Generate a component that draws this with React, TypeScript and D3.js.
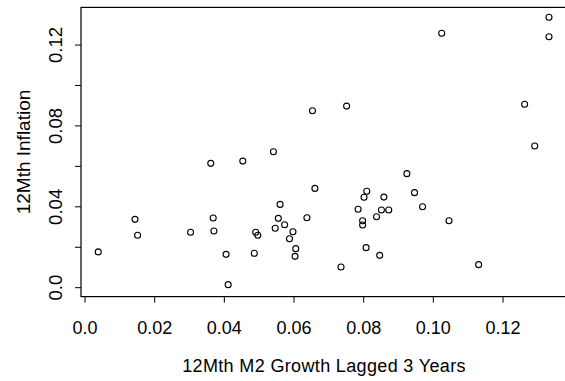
import React from "react";
import * as d3 from "d3";

// 12-month M2 growth (lagged 3 years) against 12-month inflation
const m2Growth = [
  0.0038, 0.01435, 0.0151, 0.0303, 0.0361, 0.0368, 0.037, 0.0405, 0.0411, 0.0453,
  0.049, 0.0496, 0.0486, 0.0541, 0.056, 0.0555, 0.0573, 0.0546, 0.0597, 0.0587,
  0.0605, 0.0603, 0.0637, 0.0653, 0.066, 0.0751, 0.0735, 0.0784, 0.0797, 0.0797,
  0.0801, 0.0809, 0.0807, 0.0837, 0.0851, 0.0872, 0.0858, 0.0846, 0.0924, 0.0946,
  0.0969, 0.1024, 0.1045, 0.113, 0.1262, 0.1291, 0.1332, 0.1332,
];
const inflation = [
  0.0177, 0.0338, 0.0259, 0.0274, 0.0615, 0.0345, 0.028, 0.0165, 0.0015, 0.0626,
  0.0274, 0.0259, 0.017, 0.0672, 0.0412, 0.0343, 0.0311, 0.0294, 0.0277, 0.0242,
  0.0193, 0.0155, 0.0346, 0.0875, 0.0491, 0.0898, 0.0102, 0.0388, 0.0331, 0.031,
  0.0447, 0.0477, 0.0198, 0.0351, 0.0384, 0.0384, 0.0448, 0.016, 0.0564, 0.047,
  0.04, 0.1258, 0.0331, 0.0114, 0.0907, 0.0701, 0.1337, 0.1241,
];

const xTicks = [0, 0.02, 0.04, 0.06, 0.08, 0.1, 0.12];
const xTickLabels = ["0.0", "0.02", "0.04", "0.06", "0.08", "0.10", "0.12"];
const yTicks = [0, 0.02, 0.04, 0.06, 0.08, 0.1, 0.12];
const yTickLabels = ["0.0", "", "0.04", "", "0.08", "", "0.12"];

const xTitle = "12Mth M2 Growth Lagged 3 Years";
const yTitle = "12Mth Inflation";

const W = 565;
const H = 381;
const FONT = "'Liberation Sans', Arial, Helvetica, sans-serif";

export default function App() {
  const x = d3.scaleLinear().domain([-0.00115, 0.1384]).range([81, 567.1]);
  const y = d3.scaleLinear().domain([-0.0044, 0.1386]).range([296.6, 7.4]);

  const [x0, x1] = x.range();
  const [yb, yt] = y.range();
  const tickLen = 6;

  return (
    <svg
      width={W}
      height={H}
      viewBox={`0 0 ${W} ${H}`}
      style={{ position: "absolute", left: 0, top: 0, background: "#fff" }}
      fontFamily={FONT}
    >
      <rect x={0} y={0} width={W} height={H} fill="#fff" />

      {/* plot frame */}
      <rect
        x={x0}
        y={yt}
        width={x1 - x0}
        height={yb - yt}
        fill="none"
        stroke="#000"
        strokeWidth={1.2}
      />

      {/* x axis */}
      <g>
        {xTicks.map((t, i) => (
          <g key={`xt${i}`}>
            <line x1={x(t)} x2={x(t)} y1={yb} y2={yb + tickLen} stroke="#000" strokeWidth={1} />
            <text x={x(t)} y={334.3} textAnchor="middle" fontSize={18} fill="#000">
              {xTickLabels[i]}
            </text>
          </g>
        ))}
        <text
          x={(x0 + x1) / 2}
          y={371.7}
          textAnchor="middle"
          fontSize={18}
          letterSpacing={0.35}
          fill="#000"
        >
          {xTitle}
        </text>
      </g>

      {/* y axis */}
      <g>
        {yTicks.map((t, i) => (
          <g key={`yt${i}`}>
            <line x1={x0 - tickLen} x2={x0} y1={y(t)} y2={y(t)} stroke="#000" strokeWidth={1} />
            {yTickLabels[i] && (
              <text
                transform={`translate(62.3,${y(t)}) rotate(-90)`}
                textAnchor="middle"
                fontSize={18.6}
                fill="#000"
              >
                {yTickLabels[i]}
              </text>
            )}
          </g>
        ))}
        <text
          transform={`translate(29.5,${(yb + yt) / 2}) rotate(-90)`}
          textAnchor="middle"
          fontSize={19}
          fill="#000"
        >
          {yTitle}
        </text>
      </g>

      {/* points */}
      <g>
        {m2Growth.map((v, i) => (
          <circle
            key={`p${i}`}
            cx={x(v)}
            cy={y(inflation[i])}
            r={3}
            fill="none"
            stroke="#000"
            strokeWidth={1.1}
          />
        ))}
      </g>
    </svg>
  );
}
